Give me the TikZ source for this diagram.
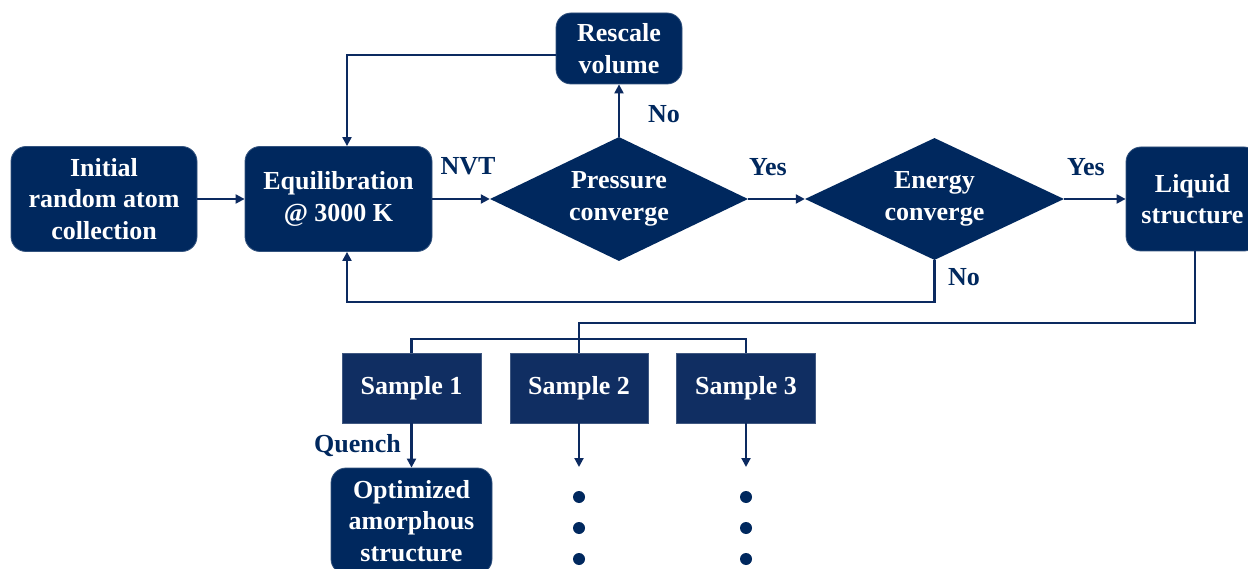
\documentclass[tikz,border=0pt]{standalone}
\usepackage{fontspec}
\setmainfont{Liberation Serif}
\usetikzlibrary{shapes.geometric,arrows.meta,calc}
\definecolor{navy}{RGB}{0,40,94}
\definecolor{navyb}{RGB}{16,46,98}
\definecolor{linec}{RGB}{12,42,96}
\tikzset{
  txt/.style={font=\fontsize{26}{31.5}\selectfont\bfseries, align=center},
  rbox/.style={txt, draw=navy!80!white, line width=0.8pt, fill=navy, text=white, rounded corners=15pt, inner sep=0pt},
  sbox/.style={txt, draw=navyb!80!white, line width=0.8pt, fill=navyb, text=white, inner sep=0pt, minimum width=139pt, minimum height=70pt},
  dbox/.style={txt, shape=diamond, fill=navy, text=white, inner sep=0pt, aspect=2.08},
  lab/.style={txt, text=navy, inner sep=0pt},
  conn/.style={draw=linec, line width=2.1pt},
  arr/.style={conn, -{Triangle[length=9pt,width=9pt]}},
}
\begin{document}
\begin{tikzpicture}[x=1pt,y=-1pt]
\clip (0,0) rectangle (1248,569);
\fill[white] (0,0) rectangle (1248,569);
% nodes
\node[rbox, minimum width=186pt, minimum height=105pt] (I) at (104,199) {Initial\\random atom\\collection};
\node[rbox, minimum width=187pt, minimum height=105pt] (E) at (338.5,199) {Equilibration\\@ 3000 K};
\node[dbox, minimum width=258pt, minimum height=124pt] (P) at (619,199) {Pressure\\converge};
\node[rbox, minimum width=126pt, minimum height=71pt] (R) at (619,48.5) {Rescale\\volume};
\node[dbox, minimum width=259pt, minimum height=122pt] (En) at (934.5,199) {Energy\\converge};
\node[rbox, minimum width=133pt, minimum height=104pt] (L) at (1192.5,199) {Liquid\\structure};
\node[sbox] (S1) at (411.5,388) {Sample 1};
\node[sbox, minimum width=138pt] (S2) at (579,388) {Sample 2};
\node[sbox] (S3) at (746,388) {Sample 3};
\node[rbox, minimum width=161pt, minimum height=106pt] (O) at (411.5,521) {Optimized\\amorphous\\structure};
% labels
\node[lab] (nvt) at (468,166) {NVT};
\node[lab] (no1) at (664,114) {No};
\node[lab] (yes1) at (768,167) {Yes};
\node[lab] (yes2) at (1086,167) {Yes};
\node[lab] (no2) at (964,277) {No};
\node[lab, anchor=base east] (q) at (401,452) {Quench};
% helper coordinates
\coordinate (lx) at (347,0);
\coordinate (d2) at (579,467);
\coordinate (d3) at (746,467);
% connectors
\draw[arr] (I.east) -- (E.west);
\draw[arr] (E.east) -- (P.west);
\draw[arr] (P.east) -- (En.west);
\draw[arr] (En.east) -- (L.west);
\draw[arr] (P.north) -- (R.south);
\draw[arr] ($(R.west)+(0,6.5)$) -| (lx |- E.north);
\draw[arr] (En.south) -- ++(0,42) -| (lx |- E.south);
\draw[conn] ($(L.south)+(2.5,0)$) -- ++(0,72) -| (S2.north);
\draw[conn] (S1.north) -- ++(0,-14) -| (S3.north);
\draw[arr] (S1.south) -- (O.north);
\draw[arr] (S2.south) -- (d2);
\draw[arr] (S3.south) -- (d3);
% dots
\foreach \yy in {497,528,559}{
  \fill[navy] (579,\yy) circle (6pt);
  \fill[navy] (746,\yy) circle (6pt);
}
\end{tikzpicture}
\end{document}
